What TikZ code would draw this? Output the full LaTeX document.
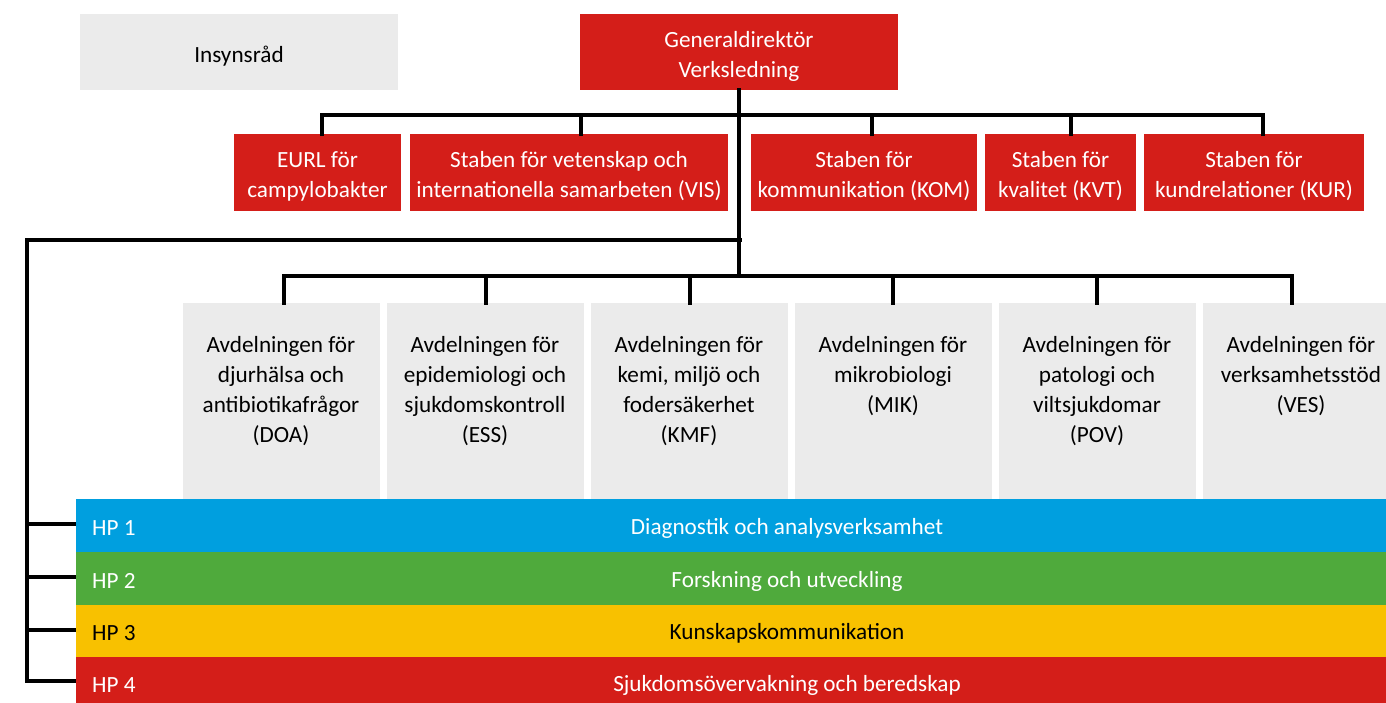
\documentclass[tikz,border=0pt]{standalone}
\usepackage{fontspec}
\setmainfont{Carlito}
\definecolor{svared}{RGB}{212,30,25}
\definecolor{svablue}{RGB}{0,159,223}
\definecolor{svagreen}{RGB}{79,170,60}
\definecolor{svayellow}{RGB}{248,193,0}
\definecolor{svagray}{RGB}{235,235,235}
\tikzset{
  base/.style={rectangle, inner sep=0pt, align=center, font=\fontsize{23.2}{30}\selectfont},
  redbox/.style={rectangle, inner sep=0pt, fill=svared},
  graybox/.style={rectangle, inner sep=0pt, fill=svagray},
  boxtext/.style={base, yshift=-4pt},
  deptbox/.style={rectangle, inner sep=0pt, fill=svagray, minimum width=197pt, minimum height=210pt, anchor=north},
  depttext/.style={base, anchor=north, text=black},
  band/.style={rectangle, inner sep=0pt, minimum width=1422pt, anchor=north west},
  bandtext/.style={base, yshift=-2.5pt},
  conn/.style={line width=4.5pt, line cap=rect, line join=miter, black}
}
\begin{document}
\begin{tikzpicture}[x=1pt,y=-1pt]
\useasboundingbox (0,0) rectangle (1386,702);
\begin{scope}
\clip (0,0) rectangle (1386,702);
% top row
\node[graybox, minimum width=318pt, minimum height=76pt] (ins) at (239,52) {};
\node[boxtext, text=black] (insT) at (ins.center) {Insynsråd};
\node[redbox, minimum width=318pt, minimum height=76pt] (gd) at (739,52) {};
\node[boxtext, text=white] (gdT) at (gd.center) {Generaldirektör\\Verksledning};
% staff row
\node[redbox, minimum width=167pt, minimum height=77pt] (eurl) at (317.5,172.5) {};
\node[redbox, minimum width=318pt, minimum height=77pt] (vis) at (569,172.5) {};
\node[redbox, minimum width=226pt, minimum height=77pt] (kom) at (864,172.5) {};
\node[redbox, minimum width=151pt, minimum height=77pt] (kvt) at (1060.5,172.5) {};
\node[redbox, minimum width=220pt, minimum height=77pt] (kur) at (1254,172.5) {};
\node[boxtext, text=white] (eurlT) at (eurl.center) {EURL för\\campylobakter};
\node[boxtext, text=white] (visT) at (vis.center) {Staben för vetenskap och\\internationella samarbeten (VIS)};
\node[boxtext, text=white] (komT) at (kom.center) {Staben för\\kommunikation (KOM)};
\node[boxtext, text=white] (kvtT) at (kvt.center) {Staben för\\kvalitet (KVT)};
\node[boxtext, text=white] (kurT) at (kur.center) {Staben för\\kundrelationer (KUR)};
% departments
\node[deptbox] (d1) at (281,303) {};
\node[deptbox] (d2) at (485,303) {};
\node[deptbox] (d3) at (689,303) {};
\node[deptbox] (d4) at (893,303) {};
\node[deptbox] (d5) at (1097,303) {};
\node[deptbox] (d6) at (1301,303) {};
\node[depttext] (t1) at (281,336) {Avdelningen för\\djurhälsa och\\antibiotikafrågor\\(DOA)};
\node[depttext] (t2) at (485,336) {Avdelningen för\\epidemiologi och\\sjukdomskontroll\\(ESS)};
\node[depttext] (t3) at (689,336) {Avdelningen för\\kemi, miljö och\\fodersäkerhet\\(KMF)};
\node[depttext] (t4) at (893,336) {Avdelningen för\\mikrobiologi\\(MIK)};
\node[depttext] (t5) at (1097,336) {Avdelningen för\\patologi och\\viltsjukdomar\\(POV)};
\node[depttext] (t6) at (1301,336) {Avdelningen för\\verksamhetsstöd\\(VES)};
% connectors
\coordinate (s1) at (322,115);
\coordinate (s2) at (581,115);
\coordinate (s3) at (872,115);
\coordinate (s4) at (1071,115);
\coordinate (s5) at (1263,115);
\coordinate (b1) at (284,276);
\coordinate (b2) at (486,276);
\coordinate (b3) at (690,276);
\coordinate (b4) at (893,276);
\coordinate (b5) at (1097,276);
\coordinate (b6) at (1292,276);
\coordinate (lp) at (740,240);
\coordinate (lc) at (27,240);
\draw[conn] (gd.south) -- (gd.south |- b1);
\draw[conn] (s1) -- (s5);
\draw[conn] (b1) -- (b6);
\draw[conn] (s1) -- (s1 |- eurl.north);
\draw[conn] (s2) -- (s2 |- vis.north);
\draw[conn] (s3) -- (s3 |- kom.north);
\draw[conn] (s4) -- (s4 |- kvt.north);
\draw[conn] (s5) -- (s5 |- kur.north);
\draw[conn] (b1) -- (b1 |- d1.north);
\draw[conn] (b2) -- (b2 |- d2.north);
\draw[conn] (b3) -- (b3 |- d3.north);
\draw[conn] (b4) -- (b4 |- d4.north);
\draw[conn] (b5) -- (b5 |- d5.north);
\draw[conn] (b6) -- (b6 |- d6.north);
% bands
\node[band, fill=svablue, minimum height=53pt] (hp1) at (76,499) {};
\node[band, fill=svagreen, minimum height=53pt] (hp2) at (76,552) {};
\node[band, fill=svayellow, minimum height=52pt] (hp3) at (76,605) {};
\node[band, fill=svared, minimum height=52pt] (hp4) at (76,657) {};
\draw[conn] (lp) -- (lc) -- (lc |- 0,681) -- (hp4.west |- 0,681);
\draw[conn] (lc |- 0,524) -- (hp1.west |- 0,524);
\draw[conn] (lc |- 0,577) -- (hp2.west |- 0,577);
\draw[conn] (lc |- 0,630) -- (hp3.west |- 0,630);
\fill[svablue] (hp1.north west) rectangle (hp1.south east);
\fill[svagreen] (hp2.north west) rectangle (hp2.south east);
\fill[svayellow] (hp3.north west) rectangle (hp3.south east);
\fill[svared] (hp4.north west) rectangle (hp4.south east);
\node[bandtext, text=white, anchor=west] (l1) at (92,525.5) {HP 1};
\node[bandtext, text=white, anchor=west] (l2) at (92,578.5) {HP 2};
\node[bandtext, text=black, anchor=west] (l3) at (92,631) {HP 3};
\node[bandtext, text=white, anchor=west] (l4) at (92,683) {HP 4};
\node[bandtext, text=white] (c1) at (787,525.5) {Diagnostik och analysverksamhet};
\node[bandtext, text=white] (c2) at (787,578.5) {Forskning och utveckling};
\node[bandtext, text=black] (c3) at (787,631) {Kunskapskommunikation};
\node[bandtext, text=white] (c4) at (787,683) {Sjukdomsövervakning och beredskap};
\end{scope}
\end{tikzpicture}
\end{document}
